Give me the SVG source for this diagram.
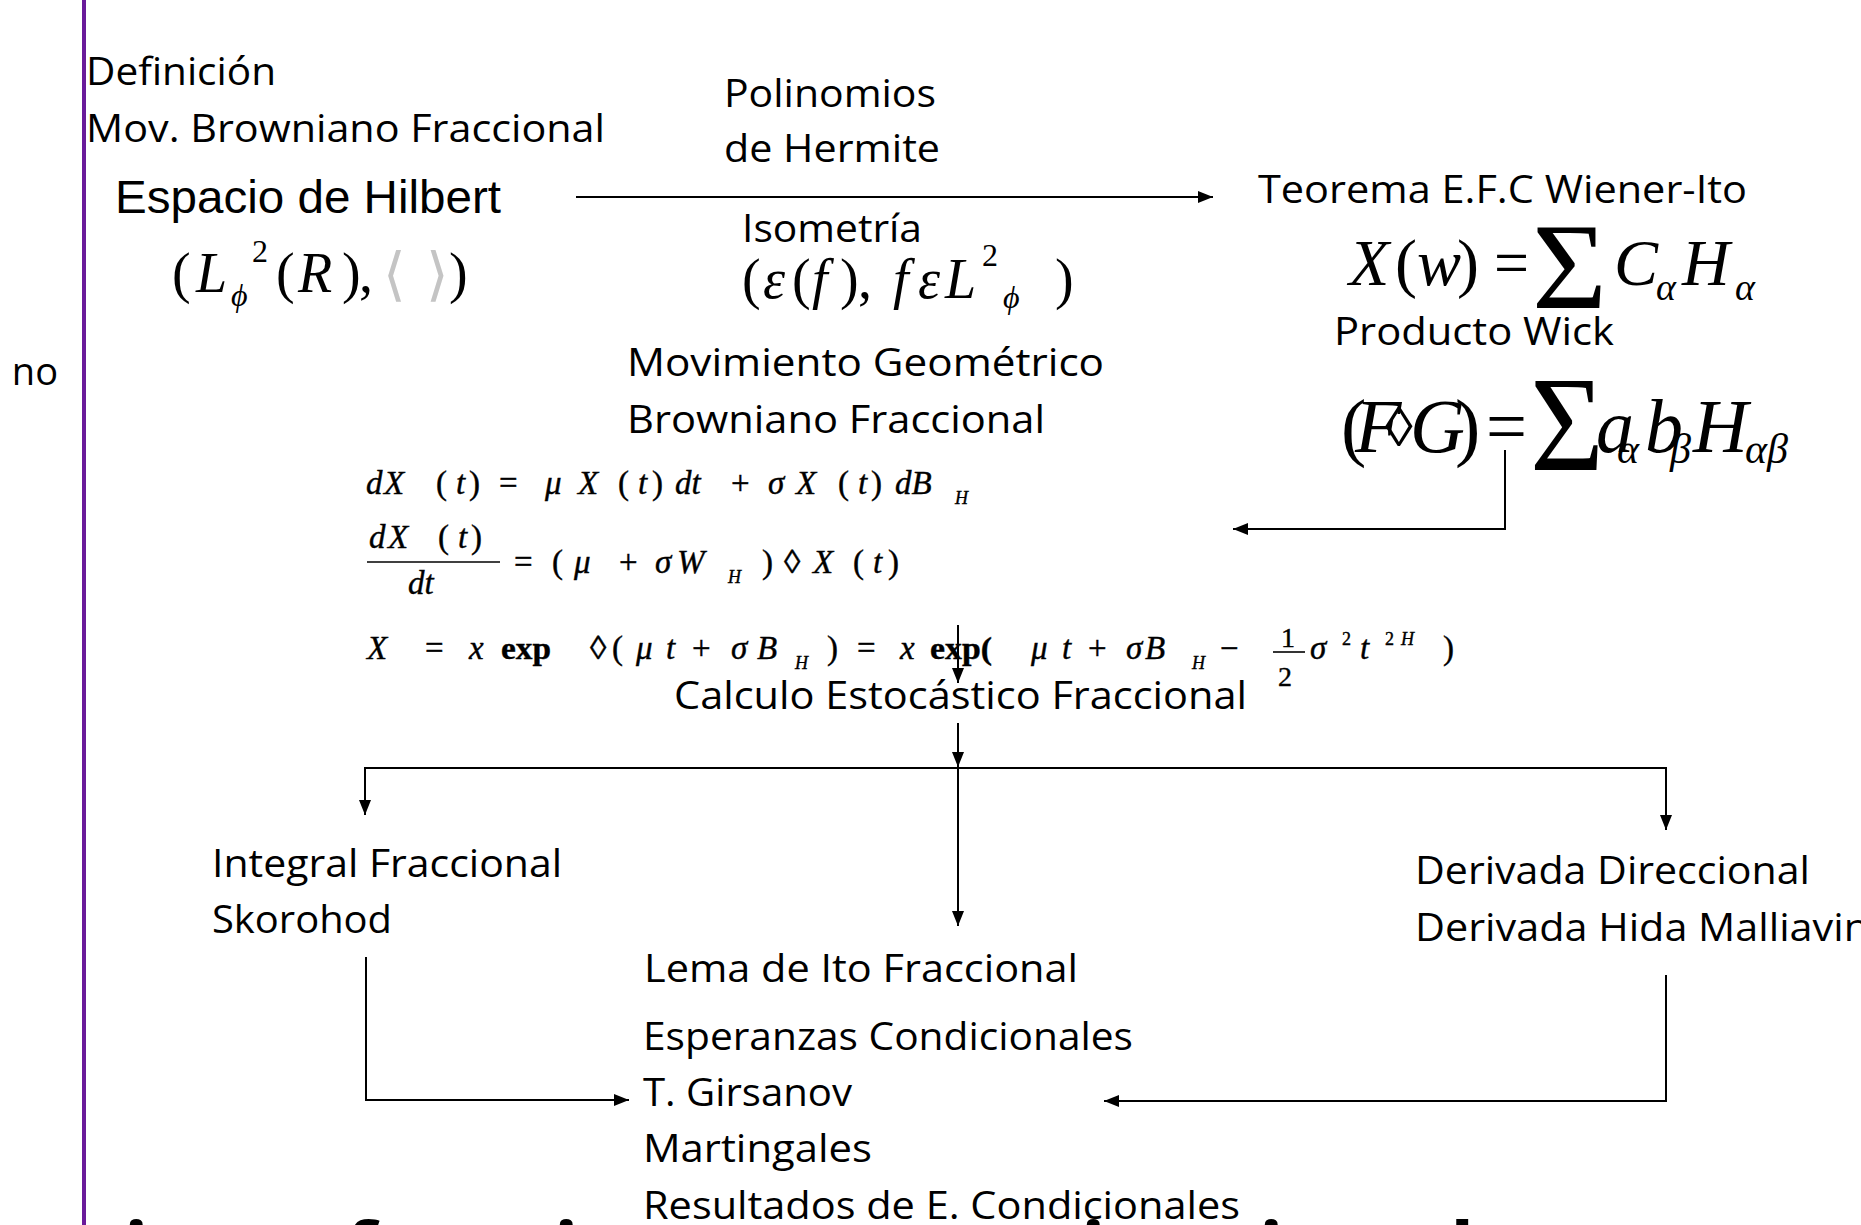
<svg xmlns="http://www.w3.org/2000/svg" width="1861" height="1225" viewBox="0 0 1861 1225">
<style>
.t{font-family:'Open Sans','Noto Sans','DejaVu Sans',sans-serif;font-size:38px;fill:#000}
.a{font-family:'Liberation Sans',Arial,sans-serif;font-size:46px;fill:#000}
.m{font-family:'Liberation Serif','Times New Roman',serif;font-style:italic;fill:#000}
.eq{stroke:#000;stroke-width:0.4}
.u{font-style:normal}
.big{font-family:'Open Sans','Noto Sans',sans-serif;font-weight:bold;font-size:80px;fill:#000}
.ln{fill:none;stroke:#000;stroke-width:2}
</style>
<defs>
<marker id="ah" markerUnits="userSpaceOnUse" markerWidth="16" markerHeight="12" refX="15" refY="6" orient="auto">
<path d="M0,0 L15,6 L0,12 z" fill="#000"/>
</marker>
</defs>
<rect width="1861" height="1225" fill="#fff"/>
<rect x="82" y="0" width="4" height="1225" fill="#6a1a9a"/>
<text class="t" x="58" y="385" text-anchor="end" font-size="44">no</text>

<g id="n-definicion">
<text class="t" x="86" y="85" textLength="190" lengthAdjust="spacingAndGlyphs">Definición</text>
<text class="t" x="86" y="142" textLength="519" lengthAdjust="spacingAndGlyphs">Mov. Browniano Fraccional</text>
</g>

<g id="n-hilbert">
<text class="a" x="115" y="213" textLength="386" lengthAdjust="spacingAndGlyphs">Espacio de Hilbert</text>
<text class="m" font-size="56" y="292"><tspan x="172" class="u">(</tspan><tspan x="196">L</tspan><tspan x="298">R</tspan></text>
<text class="m u" font-size="56" y="292"><tspan x="276">(</tspan><tspan x="342">)</tspan><tspan x="359">,</tspan><tspan x="449">)</tspan></text>
<text class="m" font-size="32" x="231" y="306">ϕ</text>
<text class="m u" font-size="32" x="252" y="262">2</text>
<text font-family="'DejaVu Serif',serif" font-size="58" fill="#c4c4c4" y="294"><tspan x="383">⟨</tspan><tspan x="426">⟩</tspan></text>
</g>

<g id="n-hermite">
<text class="t" x="724" y="107" textLength="212" lengthAdjust="spacingAndGlyphs">Polinomios</text>
<text class="t" x="724" y="162" textLength="216" lengthAdjust="spacingAndGlyphs">de Hermite</text>
</g>

<g id="n-isometria">
<text class="t" x="742" y="242" textLength="180" lengthAdjust="spacingAndGlyphs">Isometría</text>
<text class="m u" font-size="56" y="298"><tspan x="742">(</tspan><tspan x="792">(</tspan><tspan x="840">)</tspan><tspan x="858">,</tspan><tspan x="1055">)</tspan></text>
<text class="m" font-size="56" y="298"><tspan x="763">ε</tspan><tspan x="812">f</tspan><tspan x="893">f</tspan><tspan x="918">ε</tspan><tspan x="945">L</tspan></text>
<text class="m u" font-size="32" x="982" y="266">2</text>
<text class="m" font-size="32" x="1003" y="308">ϕ</text>
</g>

<g id="n-teorema">
<text class="t" x="1258" y="203" textLength="489" lengthAdjust="spacingAndGlyphs">Teorema E.F.C Wiener-Ito</text>
<text class="m" font-size="66" y="285"><tspan x="1349">X</tspan><tspan x="1395" class="u">(</tspan><tspan x="1417">w</tspan><tspan x="1457" class="u">)</tspan><tspan x="1614">C</tspan><tspan x="1682">H</tspan></text>
<text class="m u" font-size="66" x="1494" y="285" textLength="35" lengthAdjust="spacingAndGlyphs">=</text>
<text class="m u" font-size="122" x="1532" y="308" textLength="75" lengthAdjust="spacingAndGlyphs">Σ</text>
<text class="m" font-size="38" y="300"><tspan x="1656">α</tspan><tspan x="1735">α</tspan></text>
</g>

<g id="n-wick">
<text class="t" x="1334" y="345" textLength="280" lengthAdjust="spacingAndGlyphs">Producto Wick</text>
<text class="m" font-size="76" y="452"><tspan x="1341" class="u">(</tspan><tspan x="1355">F</tspan><tspan x="1410">G</tspan><tspan x="1455" class="u">)</tspan><tspan x="1596">a</tspan><tspan x="1645">b</tspan><tspan x="1693">H</tspan></text>
<text class="m u" font-size="56" x="1385" y="446">◊</text>
<text class="m u" font-size="76" x="1486" y="452" textLength="41" lengthAdjust="spacingAndGlyphs">=</text>
<text class="m u" font-size="136" x="1530" y="470" textLength="74" lengthAdjust="spacingAndGlyphs">Σ</text>
<text class="m" font-size="42" y="463"><tspan x="1617">α</tspan><tspan x="1670">β</tspan><tspan x="1745">αβ</tspan></text>
</g>

<g id="n-movgeo">
<text class="t" x="627" y="376" textLength="477" lengthAdjust="spacingAndGlyphs">Movimiento Geométrico</text>
<text class="t" x="627" y="433" textLength="418" lengthAdjust="spacingAndGlyphs">Browniano Fraccional</text>
<g class="eq">
<text class="m" font-size="33" y="494"><tspan x="366">d</tspan><tspan x="384">X</tspan><tspan x="436" class="u">(</tspan><tspan x="456">t</tspan><tspan x="469" class="u">)</tspan><tspan x="499" class="u">=</tspan><tspan x="545">μ</tspan><tspan x="578">X</tspan><tspan x="618" class="u">(</tspan><tspan x="638">t</tspan><tspan x="652" class="u">)</tspan><tspan x="675">dt</tspan><tspan x="731" class="u">+</tspan><tspan x="768">σ</tspan><tspan x="796">X</tspan><tspan x="838" class="u">(</tspan><tspan x="858">t</tspan><tspan x="871" class="u">)</tspan><tspan x="895">dB</tspan></text>
<text class="m" font-size="18" x="955" y="504">H</text>
<text class="m" font-size="33" y="548"><tspan x="369">d</tspan><tspan x="388">X</tspan><tspan x="438" class="u">(</tspan><tspan x="458">t</tspan><tspan x="471" class="u">)</tspan></text>
<text class="m" font-size="33" x="408" y="594">dt</text>
<text class="m" font-size="33" y="573"><tspan x="514" class="u">=</tspan><tspan x="552" class="u">(</tspan><tspan x="574">μ</tspan><tspan x="619" class="u">+</tspan><tspan x="655">σ</tspan><tspan x="677">W</tspan><tspan x="762" class="u">)</tspan><tspan x="784" class="u">◊</tspan><tspan x="813">X</tspan><tspan x="853" class="u">(</tspan><tspan x="873">t</tspan><tspan x="888" class="u">)</tspan></text>
<text class="m" font-size="18" x="728" y="583">H</text>
<text class="m" font-size="33" y="659"><tspan x="367">X</tspan><tspan x="425" class="u">=</tspan><tspan x="469">x</tspan><tspan x="590" class="u">◊</tspan><tspan x="612" class="u">(</tspan><tspan x="636">μ</tspan><tspan x="666">t</tspan><tspan x="692" class="u">+</tspan><tspan x="731">σ</tspan><tspan x="757">B</tspan><tspan x="827" class="u">)</tspan><tspan x="857" class="u">=</tspan><tspan x="900">x</tspan><tspan x="1031">μ</tspan><tspan x="1062">t</tspan><tspan x="1088" class="u">+</tspan><tspan x="1126">σ</tspan><tspan x="1145">B</tspan><tspan x="1220" class="u">−</tspan><tspan x="1310">σ</tspan><tspan x="1360">t</tspan><tspan x="1443" class="u">)</tspan></text>
<text class="m u" font-size="32" font-weight="bold" x="501" y="659" textLength="50" lengthAdjust="spacingAndGlyphs">exp</text>
<text class="m u" font-size="32" font-weight="bold" x="930" y="659" textLength="62" lengthAdjust="spacingAndGlyphs">exp(</text>
<text class="m" font-size="18" y="669"><tspan x="795">H</tspan><tspan x="1192">H</tspan></text>
<text class="m u" font-size="28" x="1281" y="647">1</text>
<text class="m u" font-size="28" x="1278" y="686">2</text>
<text class="m" font-size="18" y="645"><tspan x="1342" class="u">2</tspan><tspan x="1385" class="u">2</tspan><tspan x="1401">H</tspan></text>
</g>
<line x1="367" y1="562" x2="500" y2="562" stroke="#000" stroke-width="1.6"/>
<line x1="1273" y1="652" x2="1305" y2="652" stroke="#000" stroke-width="1.6"/>
</g>

<g id="n-calculo">
<text class="t" x="674" y="709" textLength="573" lengthAdjust="spacingAndGlyphs">Calculo Estocástico Fraccional</text>
</g>

<g id="n-integral">
<text class="t" x="212" y="877" textLength="350" lengthAdjust="spacingAndGlyphs">Integral Fraccional</text>
<text class="t" x="212" y="933" textLength="180" lengthAdjust="spacingAndGlyphs">Skorohod</text>
</g>

<g id="n-derivada">
<text class="t" x="1415" y="884" textLength="395" lengthAdjust="spacingAndGlyphs">Derivada Direccional</text>
<text class="t" x="1415" y="941" textLength="454" lengthAdjust="spacingAndGlyphs">Derivada Hida Malliavin</text>
</g>

<g id="n-lema">
<text class="t" x="644" y="982" textLength="434" lengthAdjust="spacingAndGlyphs">Lema de Ito Fraccional</text>
<text class="t" x="643" y="1050" textLength="490" lengthAdjust="spacingAndGlyphs">Esperanzas Condicionales</text>
<text class="t" x="643" y="1106" textLength="209" lengthAdjust="spacingAndGlyphs">T. Girsanov</text>
<text class="t" x="643" y="1162" textLength="229" lengthAdjust="spacingAndGlyphs">Martingales</text>
<text class="t" x="643" y="1219" textLength="597" lengthAdjust="spacingAndGlyphs">Resultados de E. Condicionales</text>
</g>

<g id="n-bottom">
<text class="big" y="1280"><tspan x="124">i</tspan><tspan x="345">f</tspan><tspan x="554">i</tspan><tspan x="1081">i</tspan><tspan x="1259">i</tspan><tspan x="1450">l</tspan></text>
</g>

<g id="connectors">
<line class="ln" x1="576" y1="197" x2="1213" y2="197" stroke-width="3" marker-end="url(#ah)"/>
<polyline class="ln" points="1505,450 1505,529 1233,529" marker-end="url(#ah)"/>
<line class="ln" x1="958" y1="625" x2="958" y2="683" marker-end="url(#ah)"/>
<line class="ln" x1="958" y1="723" x2="958" y2="767" marker-end="url(#ah)"/>
<line class="ln" x1="958" y1="768" x2="958" y2="926" marker-end="url(#ah)"/>
<line class="ln" x1="365" y1="768" x2="1666" y2="768"/>
<line class="ln" x1="365" y1="767" x2="365" y2="815" marker-end="url(#ah)"/>
<line class="ln" x1="1666" y1="767" x2="1666" y2="830" marker-end="url(#ah)"/>
<polyline class="ln" points="366,957 366,1100 629,1100" marker-end="url(#ah)"/>
<polyline class="ln" points="1666,975 1666,1101 1104,1101" marker-end="url(#ah)"/>
</g>
</svg>
